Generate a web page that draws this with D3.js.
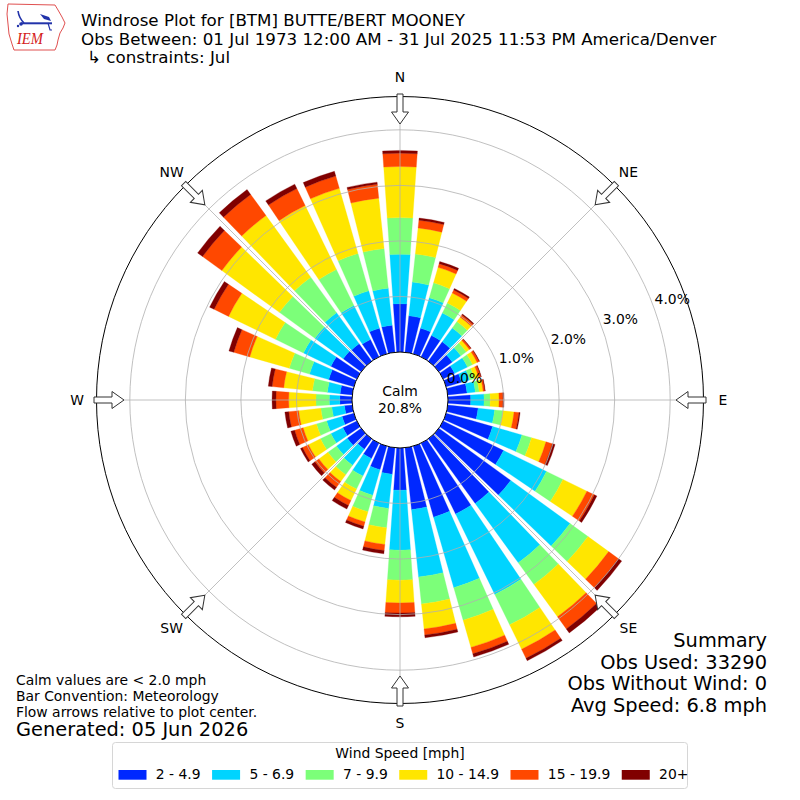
<!DOCTYPE html>
<html><head><meta charset="utf-8">
<script src="https://cdn.jsdelivr.net/npm/d3@7"></script>
<style>
body{margin:0;background:#fff}
svg{display:block}
text{font-family:"DejaVu Sans",sans-serif;fill:#000}
</style>
</head><body>
<svg id="chart" width="800" height="800"></svg>
<script>
// ---------------- DATA ----------------
const directions = [0,10,20,30,40,50,60,70,80,90,100,110,120,130,140,150,160,170,
                    180,190,200,210,220,230,240,250,260,270,280,290,300,310,320,330,340,350];
const speedBins = ["2 - 4.9","5 - 6.9","7 - 9.9","10 - 14.9","15 - 19.9","20+"];
const binColors = ["#0028ff","#00d4ff","#7cff79","#ffe600","#ff4800","#800000"];
// frequency (%) per direction for each speed bin
const bin2to5   = [0.87,0.66,0.48,0.43,0.43,0.30,0.23,0.29,0.35,0.41,0.55,0.87,1.21,1.60,1.44,1.42,1.33,1.12,
                   0.76,0.48,0.44,0.31,0.23,0.31,0.28,0.22,0.14,0.22,0.22,0.47,0.52,0.40,0.39,0.35,0.48,0.49];
const bin5to7   = [0.89,0.61,0.57,0.45,0.31,0.19,0.26,0.15,0.15,0.24,0.30,0.55,0.86,1.32,1.32,1.61,1.32,1.22,
                   1.08,0.62,0.48,0.35,0.36,0.24,0.24,0.29,0.23,0.19,0.23,0.36,0.55,0.63,0.69,0.68,0.70,0.67];
const bin7to10  = [0.66,0.51,0.28,0.20,0.14,0.12,0.10,0.09,0.07,0.11,0.15,0.18,0.33,0.40,0.48,0.61,0.61,0.49,
                   0.54,0.35,0.31,0.26,0.21,0.19,0.21,0.19,0.20,0.24,0.27,0.38,0.56,0.79,0.79,0.72,0.70,0.72];
const bin10to15 = [0.92,0.47,0.29,0.20,0.10,0.07,0.09,0.08,0.07,0.16,0.20,0.27,0.48,0.46,0.72,0.49,0.51,0.45,
                   0.41,0.30,0.19,0.23,0.15,0.20,0.24,0.25,0.40,0.49,0.52,0.74,0.94,1.28,1.37,1.28,1.22,0.91];
const bin15to20 = [0.24,0.14,0.07,0.06,0.05,0.03,0.04,0.04,0.03,0.07,0.09,0.12,0.15,0.22,0.27,0.18,0.12,0.11,
                   0.18,0.11,0.08,0.10,0.13,0.09,0.12,0.16,0.18,0.23,0.21,0.30,0.29,0.43,0.47,0.34,0.23,0.25];
const bin20plus = [0.05,0.04,0.04,0.03,0.02,0.01,0.01,0.01,0.01,0.02,0.02,0.05,0.05,0.07,0.09,0.05,0.06,0.05,
                   0.07,0.06,0.05,0.07,0.06,0.07,0.04,0.07,0.07,0.07,0.07,0.09,0.09,0.11,0.11,0.09,0.09,0.04];
const rTicks = [0,1,2,3,4];
const rTickLabels = ["0.0%","1.0%","2.0%","3.0%","4.0%"];
const compassNames = ["N","NE","E","SE","S","SW","W","NW"];
const compassAngles = [0,45,90,135,180,225,270,315];
const calmPercent = "20.8%";
const titleLines = ["Windrose Plot for [BTM] BUTTE/BERT MOONEY",
                    "Obs Between: 01 Jul 1973 12:00 AM - 31 Jul 2025 11:53 PM America/Denver",
                    "\u21b3 constraints: Jul"];
const noteLines = ["Calm values are < 2.0 mph","Bar Convention: Meteorology","Flow arrows relative to plot center."];
const generatedText = "Generated: 05 Jun 2026";
const summaryLines = ["Summary","Obs Used: 33290","Obs Without Wind: 0","Avg Speed: 6.8 mph"];
const legendTitle = "Wind Speed [mph]";

// ---------------- CHART ----------------
const svg = d3.select("#chart");
const cx = 400, cy = 400;
const keys = ["b1","b2","b3","b4","b5","b6"];
const series = [bin2to5,bin5to7,bin7to10,bin10to15,bin15to20,bin20plus];
const rows = directions.map((d,i)=>{
  const o = {dir:d};
  keys.forEach((k,j)=>o[k]=series[j][i]);
  return o;
});
const stacked = d3.stack().keys(keys)(rows);

const rScale = d3.scaleLinear().domain([0,4.6]).range([48,303.5]);
const aScale = d3.scaleLinear().domain([0,360]).range([0,2*Math.PI]);
const halfOpen = 4; // degrees (opening 0.8 of 10 degree sector)

const arc = d3.arc()
  .innerRadius(d=>rScale(d[0]))
  .outerRadius(d=>rScale(d[1]))
  .startAngle(d=>aScale(d.data.dir-halfOpen))
  .endAngle(d=>aScale(d.data.dir+halfOpen));

const g = svg.append("g").attr("transform",`translate(${cx},${cy})`);

g.selectAll("g.layer").data(stacked).join("g")
  .attr("class","layer")
  .attr("fill",(d,i)=>binColors[i])
  .attr("stroke",(d,i)=>binColors[i])
  .attr("stroke-width",0.3)
  .selectAll("path").data(d=>d).join("path")
  .attr("d",arc);

// grid rings
g.selectAll("circle.ring").data(rTicks.filter(t=>t>0)).join("circle")
  .attr("r",d=>rScale(d)).attr("fill","none")
  .attr("stroke","#b0b0b0").attr("stroke-width",0.8);

// radial lines
g.selectAll("line.spoke").data(compassAngles).join("line")
  .attr("x1",0).attr("y1",0)
  .attr("x2",d=>rScale(4.6)*Math.sin(aScale(d)))
  .attr("y2",d=>-rScale(4.6)*Math.cos(aScale(d)))
  .attr("stroke","#b0b0b0").attr("stroke-width",0.8);

// calm disc
g.append("circle").attr("r",rScale(0)).attr("fill","#fff").attr("stroke","#000").attr("stroke-width",1);
// outer circle
g.append("circle").attr("r",rScale(4.6)).attr("fill","none").attr("stroke","#000").attr("stroke-width",1);

// calm label
g.append("text").attr("x",0).attr("y",-4).attr("text-anchor","middle").style("font-size","13.9px").text("Calm");
g.append("text").attr("x",0).attr("y",12.5).attr("text-anchor","middle").style("font-size","13.9px").text(calmPercent);

// r tick labels
const labA = aScale(69.2);
g.selectAll("text.rlab").data(rTicks).join("text")
  .attr("x",d=>rScale(d)*Math.sin(labA)+2)
  .attr("y",d=>-rScale(d)*Math.cos(labA))
  .style("font-size","13.9px")
  .text((d,i)=>rTickLabels[i]);

// compass labels
g.selectAll("text.cmp").data(compassAngles).join("text")
  .attr("x",d=>323*Math.sin(aScale(d)))
  .attr("y",d=>-323*Math.cos(aScale(d)))
  .attr("dy","0.36em")
  .attr("text-anchor","middle")
  .style("font-size","13.9px")
  .text((d,i)=>compassNames[i]);

// flow arrows
const arrowPts = [[0,-276],[8.5,-288],[3,-288],[3,-306],[-3,-306],[-3,-288],[-8.5,-288]];
g.selectAll("polygon.arrow").data(compassAngles).join("polygon")
  .attr("points",arrowPts.map(p=>p.join(",")).join(" "))
  .attr("transform",d=>`rotate(${d})`)
  .attr("fill","#fff").attr("stroke","#333").attr("stroke-width",1);

// ---------------- TEXTS ----------------
svg.append("text").attr("x",81).attr("y",25.5).style("font-size","16.7px").text(titleLines[0]);
svg.append("text").attr("x",81).attr("y",45).style("font-size","16.7px").text(titleLines[1]);
svg.append("text").attr("x",87).attr("y",63).style("font-size","16.7px").text(titleLines[2]);

noteLines.forEach((t,i)=>{
  svg.append("text").attr("x",16).attr("y",[685,701,716.5][i]).style("font-size","13.9px").text(t);
});
svg.append("text").attr("x",16).attr("y",736).style("font-size","19.4px").text(generatedText);

summaryLines.forEach((t,i)=>{
  svg.append("text").attr("x",767).attr("y",[646.5,668.5,690,712][i])
    .attr("text-anchor","end").style("font-size","19.4px").text(t);
});

// ---------------- LEGEND ----------------
const leg = svg.append("g");
leg.append("rect").attr("x",112.5).attr("y",742.5).attr("width",575).attr("height",46)
  .attr("rx",3).attr("fill","#fff").attr("stroke","#d6d6d6").attr("stroke-width",1);
leg.append("text").attr("x",400).attr("y",758.3).attr("text-anchor","middle")
  .style("font-size","13.9px").text(legendTitle);
let lx = 118.5;
speedBins.forEach((lab,i)=>{
  leg.append("rect").attr("x",lx).attr("y",770).attr("width",28).attr("height",9.7).attr("fill",binColors[i]);
  const t = leg.append("text").attr("x",lx+37.3).attr("y",779.3).style("font-size","13.9px").text(lab);
  lx = lx + 37.3 + t.node().getComputedTextLength() + 11.5;
});

// ---------------- LOGO ----------------
const logo = svg.append("g");
logo.append("path")
  .attr("d","M8,4 L55,5 L58,10 L62,17 L65,23 L63,28 L60,33 L58,40 L57,45 L55,50 L14,50 L12,44 L9,34 L8,24 L7,14 Z")
  .attr("fill","none").attr("stroke","#e05050").attr("stroke-width",1);
logo.append("path").attr("d","M18,11 Q19,18 24,23").attr("fill","none").attr("stroke","#2233aa").attr("stroke-width",1.6);
logo.append("path").attr("d","M21,23.3 L52,23.3").attr("fill","none").attr("stroke","#2233aa").attr("stroke-width",2);
logo.append("path").attr("d","M40,14 L49,17 L51,21 L44,19 Z").attr("fill","#2233aa");
logo.append("circle").attr("cx",21).attr("cy",24).attr("r",1.8).attr("fill","#2233aa");
logo.append("circle").attr("cx",18).attr("cy",26).attr("r",1.2).attr("fill","#2233aa");
logo.append("path").attr("d","M48,23 L50,30 L52,30").attr("fill","none").attr("stroke","#2233aa").attr("stroke-width",1.2);
logo.append("text").attr("x",17).attr("y",43.5).attr("textLength",26).attr("lengthAdjust","spacingAndGlyphs")
  .style("font-family","'Liberation Serif',serif").style("font-style","italic")
  .style("font-size","17px").style("fill","#d42020").text("IEM");
</script>
</body></html>
